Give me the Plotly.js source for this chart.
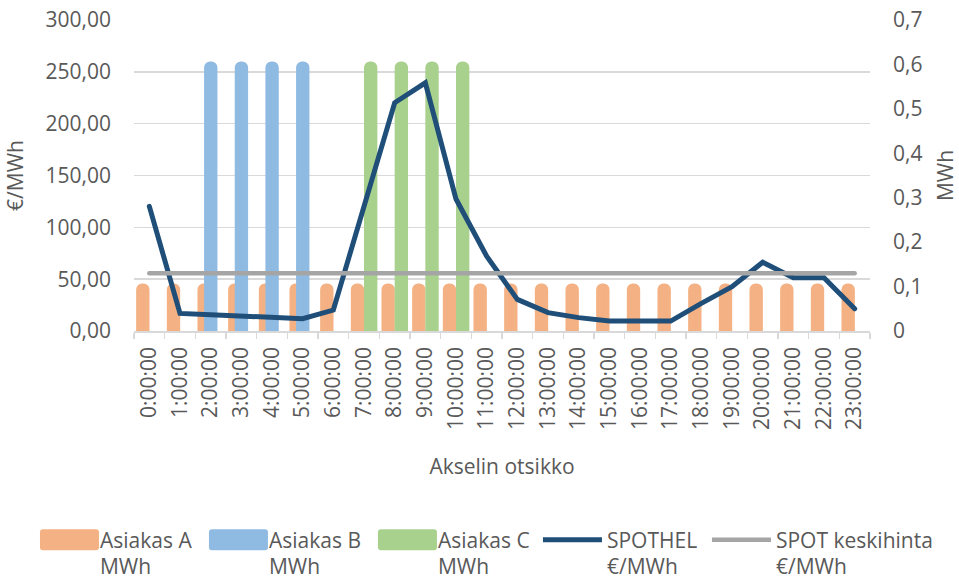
<!DOCTYPE html>
<html><head><meta charset="utf-8">
<script src="https://cdn.plot.ly/plotly-3.0.1.min.js"></script>
<style>html,body{margin:0;padding:0;background:#fff}#chart{width:959px;height:579px}</style>
</head><body><div id="chart"></div>
<script>
const hours = ['0:00:00','1:00:00','2:00:00','3:00:00','4:00:00','5:00:00','6:00:00','7:00:00',
  '8:00:00','9:00:00','10:00:00','11:00:00','12:00:00','13:00:00','14:00:00','15:00:00',
  '16:00:00','17:00:00','18:00:00','19:00:00','20:00:00','21:00:00','22:00:00','23:00:00'];
const asiakasA = [0.1,0.1,0.1,0.1,0.1,0.1,0.1,0.1,0.1,0.1,0.1,0.1,0.1,0.1,0.1,0.1,0.1,0.1,0.1,0.1,0.1,0.1,0.1,0.1];
const asiakasB = [null,null,0.6,0.6,0.6,0.6,null,null,null,null,null,null,null,null,null,null,null,null,null,null,null,null,null,null];
const asiakasC = [null,null,null,null,null,null,null,0.6,0.6,0.6,0.6,null,null,null,null,null,null,null,null,null,null,null,null,null];
const spothel = [120.2,17.0,15.7,14.4,12.8,11.9,20.2,119.6,220.2,239.4,127.3,72.1,30.5,17.7,12.9,9.6,9.6,9.6,26.6,42.7,66.3,51.3,51.3,21.5];
const spotKeskihinta = [55.8,55.8,55.8,55.8,55.8,55.8,55.8,55.8,55.8,55.8,55.8,55.8,55.8,55.8,55.8,55.8,55.8,55.8,55.8,55.8,55.8,55.8,55.8,55.8];
const euroTicks = [0,50,100,150,200,250,300];
const mwhTicks = [0,0.1,0.2,0.3,0.4,0.5,0.6,0.7];
const seriesNames = ['Asiakas A<br>MWh','Asiakas B<br>MWh','Asiakas C<br>MWh','SPOTHEL<br>€/MWh','SPOT keskihinta<br>€/MWh'];

const FONT = 'Open Sans, sans-serif';
const GREY = '#595959';
const FS = 21;
const barW = 0.24, stroke = 6;
function barTrace(y, name, color, off) {
  return {type:'bar', x:hours, y:y, name:name, yaxis:'y',
    offset:off, width:barW,
    marker:{color:color, cornerradius:3, line:{color:color, width:stroke}},
    hoverinfo:'skip'};
}
const data = [
  barTrace(asiakasA, seriesNames[0], '#F4B183', -0.332),
  barTrace(asiakasB, seriesNames[1], '#8FBAE2', -0.117),
  barTrace(asiakasC, seriesNames[2], '#A9D18E', 0.098),
  {type:'scatter', mode:'lines', x:hours, y:spothel, name:seriesNames[3], yaxis:'y2',
    line:{color:'#1F4E79', width:5}},
  {type:'scatter', mode:'lines', x:hours, y:spotKeskihinta, name:seriesNames[4], yaxis:'y2',
    line:{color:'#A5A5A5', width:4.5}}
];
const layout = {
  width:959, height:579,
  margin:{l:134, r:89, t:20, b:247},
  paper_bgcolor:'#fff', plot_bgcolor:'#fff',
  font:{family:FONT, size:FS, color:GREY},
  separators:', ',
  barmode:'overlay',
  showlegend:true,
  xaxis:{type:'category', range:[-0.5,23.5], tickangle:-90, tickson:'boundaries',
    ticks:'outside', ticklen:6, tickcolor:'#D9D9D9', tickwidth:1.5, automargin:false,
    showline:true, linecolor:'#D9D9D9', linewidth:1.5, showgrid:false, ticklabelstandoff:6,
    tickfont:{size:FS, color:GREY},
    title:{text:'Akselin otsikko', standoff:30, font:{size:FS, color:GREY}}},
  yaxis:{side:'right', range:[0,0.7], tickvals:mwhTicks, showgrid:false, zeroline:false,
    ticks:'', ticklabelstandoff:22, automargin:false, tickfont:{size:FS, color:GREY},
    title:{text:'MWh', standoff:24, font:{size:FS, color:GREY}}},
  yaxis2:{side:'left', overlaying:'y', range:[0,300], tickvals:euroTicks, tickformat:'.2f',
    showgrid:true, gridcolor:'#D9D9D9', gridwidth:1.5, zeroline:false, automargin:false,
    ticks:'', ticklabelstandoff:22, tickfont:{size:FS, color:GREY},
    title:{text:'€/MWh', standoff:16, font:{size:FS, color:GREY}}},
  legend:{orientation:'h', x:-0.14, xanchor:'left', y:-0.54, yanchor:'top',
    valign:'top', itemwidth:59, entrywidth:95, font:{size:FS, color:GREY},
    itemclick:false, itemdoubleclick:false}
};
const LEGEND_SHIFT_Y = 19;
function tweakLegend(gd) {
  gd.querySelectorAll('.legend .scrollbox').forEach(function(el){ el.removeAttribute('clip-path'); });
  gd.querySelectorAll('g.legend').forEach(function(lg){
    var t = lg.getAttribute('transform') || '';
    var m = /translate\(\s*([-\d.e]+)[ ,]+([-\d.e]+)\s*\)/.exec(t);
    if (m) lg.setAttribute('transform','translate(' + m[1] + ',' + (parseFloat(m[2]) + LEGEND_SHIFT_Y) + ')');
  });
  gd.querySelectorAll('.legend .traces').forEach(function(tr){
    tr.querySelectorAll('.legendpoints path').forEach(function(p){
      var d = p.getAttribute('d') || '';
      if (/H/.test(d) && /V/.test(d)) {
        p.setAttribute('d','M-22.5,-10.5H30.5A3,3 0 0 1 33.5,-7.5V7.5A3,3 0 0 1 30.5,10.5H-22.5A3,3 0 0 1 -25.5,7.5V-7.5A3,3 0 0 1 -22.5,-10.5Z');
        p.style.strokeWidth = '0px';
      } else if (d) {
        p.setAttribute('d','M-23,0H29');
        p.style.strokeLinecap = 'round';
        p.style.strokeWidth = '5.5px';
      }
    });
    tr.querySelectorAll('text tspan.line').forEach(function(t, i){
      if (i > 0) t.setAttribute('dy','1.25em');
    });
  });
  gd.querySelectorAll('.scatterlayer path.js-line').forEach(function(p){ p.style.strokeLinecap='round'; });
}
Plotly.newPlot('chart', data, layout, {displayModeBar:false, staticPlot:true}).then(tweakLegend);
</script></body></html>
